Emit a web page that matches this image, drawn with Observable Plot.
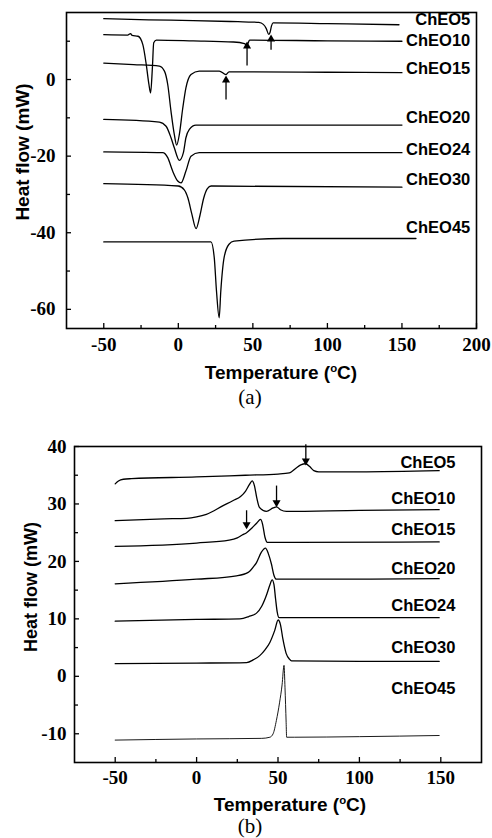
<!DOCTYPE html>
<html>
<head>
<meta charset="utf-8">
<script src="https://cdn.jsdelivr.net/npm/d3@7"></script>
<script src="https://cdn.jsdelivr.net/npm/@observablehq/plot@0.6"></script>
<style>
  html, body { margin: 0; padding: 0; background: #fff; }
  #wrap { position: relative; width: 492px; height: 838px; overflow: hidden; background: #fff; }
  .panel { position: absolute; left: 0; }
  .lbl { position: absolute; transform: translate(-50%, -50%); white-space: nowrap; color: #000; line-height: 1; }
  .ttl { font-family: "Liberation Sans", Arial, sans-serif; font-weight: bold; }
  .cap { font-family: "Liberation Serif", "Times New Roman", serif; font-size: 21px; }
  .rot { transform: translate(-50%, -50%) rotate(-90deg); }
  sup { font-size: 0.6em; vertical-align: 0.6em; line-height: 0; }
  #wrap svg g[aria-label$="tick label"] text {
    font-family: "Liberation Serif", "Times New Roman", serif !important;
    font-weight: bold !important;
    font-size: 19px !important;
  }
</style>
</head>
<body>
<div id="wrap">
  <div class="panel" id="pa" style="top:0"></div>
  <div class="panel" id="pb" style="top:410px"></div>
  <div class="lbl ttl rot" style="left:22px;top:152px;font-size:19px">Heat flow (mW)</div>
  <div class="lbl ttl" style="left:281px;top:372px;font-size:19px">Temperature (<sup>o</sup>C)</div>
  <div class="lbl cap" style="left:250px;top:397px">(a)</div>
  <div class="lbl ttl rot" style="left:31px;top:587px;font-size:18px">Heat flow (mW)</div>
  <div class="lbl ttl" style="left:290px;top:804px;font-size:19px">Temperature (<sup>o</sup>C)</div>
  <div class="lbl cap" style="left:250px;top:826px">(b)</div>
</div>
<script>
// ---------- Panel (a): cooling curves ----------
const seriesNames = ["ChEO5", "ChEO10", "ChEO15", "ChEO20", "ChEO24", "ChEO30", "ChEO45"];

const a_ChEO5 = [[-50,15.9],[-20,15.6],[10,15.4],[40,15.1],[50,15.0],[54,14.9],[57,14.4],[59,13.3],[60.6,11.8],[61.5,12.3],[62.5,14.0],[63.5,14.8],[100,14.6],[148,14.3]];
const a_ChEO10 = [[-50,11.7],[-34,11.6],[-32,12.0],[-31,11.5],[-27,11.3],[-23.8,9.1],[-21.5,3.9],[-19.7,-1.3],[-18.6,-3.5],[-17.4,3.0],[-16.5,9.6],[-14.7,10.3],[10,10.1],[37,9.8],[44.4,9.4],[46,8.9],[47.8,10.3],[100,10.1],[150,10.0]];
const a_ChEO15 = [[-50,4.3],[-30,3.9],[-12.7,3.5],[-9.3,2.2],[-7.1,-1.3],[-4.9,-8.3],[-2.7,-14.3],[-1.1,-17.1],[0.7,-14.3],[2.9,-7.7],[5.1,-2.2],[8.5,1.3],[14,2.2],[27.5,2.2],[32,1.3],[34,2.0],[100,1.9],[150,1.8]];
const a_ChEO20 = [[-50,-10.4],[-12.7,-11.1],[-8.2,-12.2],[-4.9,-15.2],[-2.7,-17.8],[0.7,-21.1],[3.4,-19.1],[5.1,-15.2],[7.4,-13.0],[11.8,-11.9],[150,-11.9]];
const a_ChEO24 = [[-50,-18.9],[-10.5,-19.1],[-7.1,-20.4],[-3.8,-23.9],[-0.4,-26.5],[1.8,-27.0],[5.1,-23.9],[8.5,-20.0],[14,-19.1],[150,-19.1]];
const a_ChEO30 = [[-50,-27.2],[0,-27.8],[4,-28.8],[6.5,-31.0],[9,-35.0],[11.9,-38.9],[14.5,-35.5],[17,-31.0],[19.5,-28.5],[22,-27.8],[150,-28.1]];
const a_ChEO45 = [[-50,-42.4],[21.9,-42.4],[24.1,-46.5],[25.6,-55.2],[27.4,-62.2],[28.5,-55.2],[30.7,-46.5],[34,-43.0],[37.4,-42.2],[70,-41.5],[159.4,-41.5]];
const aSeries = [a_ChEO5, a_ChEO10, a_ChEO15, a_ChEO20, a_ChEO24, a_ChEO30, a_ChEO45];

const aLabelX = 195.8;
const aLabelY = [15.7, 10.2, 2.7, -9.9, -18.3, -26.1, -38.6];
// arrows (pointing up): x, tail, tip
const aArrowX = [62.2, 46.1, 32];
const aArrowTail = [7.8, 3.65, -5.2];
const aArrowTip = [11.3, 9.5, 0.6];

const aXTicks = [-50, 0, 50, 100, 150, 200];
const aXMinor = [-25, 25, 75, 125, 175];
const aYTicks = [-60, -40, -20, 0];
const aYMinor = [-50, -30, -10, 10];

// ---------- Panel (b): heating curves ----------
const b_ChEO5 = [[-50,33.5],[-48,34.0],[-45,34.3],[-40,34.4],[0,34.7],[30,35.0],[50,35.2],[57,35.4],[61,36.2],[64,36.8],[67,37.0],[69.5,36.5],[72,35.8],[75,35.6],[100,35.6],[149,35.8]];
const b_ChEO10 = [[-50,27.1],[-20,27.4],[-6,27.5],[0,27.75],[6,28.2],[16.3,29.7],[22.5,30.6],[27,31.3],[30,32.2],[32.5,33.4],[34.1,34.0],[35.5,33.2],[37,31.0],[38.6,29.4],[42.9,28.7],[47,29.3],[49.1,29.5],[51.5,29.0],[55.2,28.7],[100,28.9],[149,29.0]];
const b_ChEO15 = [[-50,22.6],[0,23.2],[20,23.7],[25,24.1],[28,24.6],[30.7,25.0],[34,25.8],[37,26.7],[39.3,27.3],[40.5,26.5],[42,24.2],[43.5,23.3],[60,23.3],[149,23.4]];
const b_ChEO20 = [[-50,16.1],[0,16.9],[24.5,17.5],[31.7,18.1],[35,19.1],[36.8,19.8],[39.8,21.6],[42.3,22.3],[44,21.4],[46,19.5],[47.5,17.6],[49,16.9],[100,16.9],[149,17.0]];
const b_ChEO24 = [[-50,9.6],[0,9.9],[26.6,10.0],[32,10.4],[36.8,11.0],[40,12.2],[43,14.2],[45,15.9],[46.4,16.8],[47.5,16.0],[48.5,13.5],[49.5,11.2],[50.7,10.2],[100,10.2],[149,10.2]];
const b_ChEO30 = [[-50,2.2],[0,2.3],[30.7,2.4],[35,2.9],[38.8,3.6],[42,4.6],[45,5.9],[48,8.0],[50.1,9.8],[51.5,9.0],[53,6.5],[55,4.0],[57,3.0],[58.3,2.7],[100,2.6],[149,2.6]];
const b_ChEO45 = [[-50,-11.1],[0,-10.9],[40,-10.8],[45,-10.6],[47,-10.0],[49,-7.7],[51,-4.5],[52.5,-1.5],[53.7,1.9],[54.3,-2.0],[55,-8.0],[55.3,-10.6],[60,-10.6],[100,-10.5],[149,-10.3]];
const bSeries = [b_ChEO5, b_ChEO10, b_ChEO15, b_ChEO20, b_ChEO24, b_ChEO30, b_ChEO45];

const bLabelX = 159;
const bLabelY = [37.1, 30.9, 25.5, 18.8, 12.3, 4.9, -2.1];
// arrows (pointing down): x, tail, tip
const bArrowX = [67.1, 49.1, 30.7];
const bArrowTail = [40.4, 33.2, 28.9];
const bArrowTip = [37.0, 29.7, 25.9];

const bXTicks = [-50, 0, 50, 100, 150];
const bXMinor = [-25, 25, 75, 125];
const bYTicks = [-10, 0, 10, 20, 30, 40];
const bYMinor = [-5, 5, 15, 25, 35];

// ---------- build ----------
function flatten(series) {
  const rows = [];
  series.forEach((pts, i) => pts.forEach(([t, v]) => rows.push({name: seriesNames[i], t, v})));
  return rows;
}

const SERIF = "'Liberation Serif', 'Times New Roman', serif";
const SANS = "'Liberation Sans', Arial, sans-serif";

function panel(opts) {
  const {series, labelX, labelY, arX, arTail, arTip, up, xTicks, xMinor, yTicks, yMinor, xDomain, yDomain, height, margins, yPad, xPad, thinLast} = opts;
  const rows = flatten(series);
  const labels = seriesNames.map((n, i) => ({n, x: labelX, y: labelY[i]}));
  const arrows = arX.map((x, i) => ({x, y1: arTail[i], y2: arTip[i]}));
  return Plot.plot({
    width: 492,
    height,
    ...margins,
    style: {background: "white", color: "black", overflow: "visible", fontFamily: SERIF, fontWeight: "bold", fontSize: "19px"},
    x: {domain: xDomain, label: null},
    y: {domain: yDomain, label: null},
    marks: [
      Plot.axisX({ticks: xTicks, tickSize: 0, tickPadding: xPad, tickFormat: d => String(d), fontFamily: SERIF, fontWeight: "bold", fontSize: 19}),
      Plot.axisX({ticks: xTicks, tickSize: -5, fill: "none", strokeWidth: 1.3}),
      Plot.axisX({ticks: xMinor, tickSize: -3, fill: "none", strokeWidth: 1.3}),
      Plot.axisY({ticks: yTicks, tickSize: 0, tickPadding: yPad, tickFormat: d => String(d), fontFamily: SERIF, fontWeight: "bold", fontSize: 19}),
      Plot.axisY({ticks: yTicks, tickSize: -5, fill: "none", strokeWidth: 1.3}),
      Plot.axisY({ticks: yMinor, tickSize: -4, fill: "none", strokeWidth: 1.3}),
      Plot.frame({stroke: "black", strokeWidth: 1.6}),
      Plot.line(rows.filter(r => !(thinLast && r.name === "ChEO45")), {x: "t", y: "v", z: "name", stroke: "black", strokeWidth: 1.3, curve: "monotone-x"}),
      thinLast ? Plot.line(rows.filter(r => r.name === "ChEO45"), {x: "t", y: "v", stroke: "black", strokeWidth: 0.9, curve: "monotone-x"}) : null,
      Plot.link(arrows, {x1: "x", x2: "x", y1: "y1", y2: "y2", stroke: "black", strokeWidth: 1.3}),
      Plot.dot(arrows, {x: "x", y: "y2", symbol: "triangle", r: 3, fill: "black", stroke: null, rotate: up ? 0 : 180, dy: up ? 3 : -3}),
      Plot.text(labels, {x: "x", y: "y", text: "n", textAnchor: "end", fontFamily: SANS, fontWeight: "bold", fontSize: 16.5, fill: "black"})
    ]
  });
}

const A = panel({
  series: aSeries, labelX: aLabelX, labelY: aLabelY,
  arX: aArrowX, arTail: aArrowTail, arTip: aArrowTip, up: true,
  xTicks: aXTicks, xMinor: aXMinor, yTicks: aYTicks, yMinor: aYMinor,
  xDomain: [-75, 200], yDomain: [-65, 17.5], height: 380,
  margins: {marginTop: 12, marginBottom: 52, marginLeft: 66, marginRight: 16},
  yPad: 11, xPad: 9, thinLast: false
});
document.getElementById("pa").appendChild(A);

const B = panel({
  series: bSeries, labelX: bLabelX, labelY: bLabelY,
  arX: bArrowX, arTail: bArrowTail, arTip: bArrowTip, up: false,
  xTicks: bXTicks, xMinor: bXMinor, yTicks: bYTicks, yMinor: bYMinor,
  xDomain: [-75, 175], yDomain: [-15, 40], height: 410,
  margins: {marginTop: 36, marginBottom: 58, marginLeft: 74, marginRight: 11},
  yPad: 8, xPad: 8, thinLast: true
});
document.getElementById("pb").appendChild(B);
</script>
</body>
</html>
